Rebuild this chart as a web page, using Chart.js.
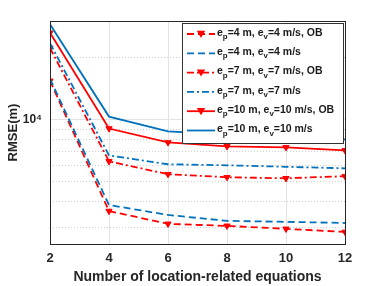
<!DOCTYPE html>
<html>
<head>
<meta charset="utf-8">
<script src="https://cdn.jsdelivr.net/npm/chart.js@4/dist/chart.umd.min.js"></script>
<style>
  html, body { margin: 0; padding: 0; background: #fff; }
  #wrap { width: 382px; height: 286px; }
</style>
</head>
<body>
<div id="wrap"><canvas id="rmseChart" width="382" height="286"></canvas></div>
<script>
// x values: number of location-related equations
const equations = [2, 4, 6, 8, 10, 12];

// RMSE (m), one array per curve
const rmseOb4 = [15400, 3610, 3130, 3060, 2960, 2860];
const rmse4 = [15740, 3860, 3455, 3235, 3200, 3160];
const rmseOb7 = [22200, 6280, 5440, 5260, 5200, 5320];
const rmse7 = [23450, 6710, 6080, 6010, 5910, 5810];
const rmseOb10 = [26300, 9050, 7750, 7420, 7340, 7100];
const rmse10 = [28900, 10340, 8760, 8470, 8290, 8010];

// legend labels ("_x" = subscript x)
const seriesLabels = [
    'e_p=4 m, e_v=4 m/s, OB',
    'e_p=4 m, e_v=4 m/s',
    'e_p=7 m, e_v=7 m/s, OB',
    'e_p=7 m, e_v=7 m/s',
    'e_p=10 m, e_v=10 m/s, OB',
    'e_p=10 m, e_v=10 m/s'
];

// axis ticks / grid
const xTicks = [2, 4, 6, 8, 10, 12];
const yGridValues = [3000, 4000, 5000, 6000, 7000, 8000, 9000, 10000, 20000];
const yMin = 2500;
const yMax = 30000;

const RED = '#ff0000';
const BLUE = '#0072bd';
const FONT = '"Liberation Sans", Arial, sans-serif';

function toPoints(values) {
    return equations.map((x, i) => ({ x: x, y: values[i] }));
}

function makeSeries(i, values, color, dash, marker) {
    return {
        label: seriesLabels[i],
        data: toPoints(values),
        borderColor: color,
        backgroundColor: color,
        borderWidth: 1.8,
        borderDash: dash,
        pointStyle: 'triangle',
        rotation: 180,
        pointRadius: marker ? 3.6 : 0,
        pointBorderWidth: 1,
        pointBackgroundColor: color,
        pointBorderColor: color,
        tension: 0,
        fill: false,
        order: 6 - i   // later curves on top, like matlab
    };
}

const DASH = [7, 4];
const DASHDOT = [7, 3, 2, 3];

const datasets = [
    makeSeries(0, rmseOb4, RED, DASH, true),
    makeSeries(1, rmse4, BLUE, DASH, false),
    makeSeries(2, rmseOb7, RED, DASHDOT, true),
    makeSeries(3, rmse7, BLUE, DASHDOT, false),
    makeSeries(4, rmseOb10, RED, [], true),
    makeSeries(5, rmse10, BLUE, [], false)
];

// draw text with _x subscripts
function drawSubText(ctx, text, x, y, size) {
    const mainFont = 'bold ' + size + 'px ' + FONT;
    const subFont = 'bold ' + (size * 0.75) + 'px ' + FONT;
    let cx = x;
    for (let i = 0; i < text.length; i++) {
        const ch = text[i];
        if (ch === '_' && i + 1 < text.length) {
            ctx.font = subFont;
            ctx.fillText(text[i + 1], cx, y + size * 0.38);
            cx += ctx.measureText(text[i + 1]).width;
            i++;
        } else {
            ctx.font = mainFont;
            ctx.fillText(ch, cx, y);
            cx += ctx.measureText(ch).width;
        }
    }
}

const boxLegend = {
    id: 'boxLegend',
    afterDatasetsDraw(chart) {
        const ctx = chart.ctx;
        const area = chart.chartArea;
        const w = 161, h = 120;
        const x0 = area.right - w - 2;
        const y0 = area.top + 2;
        ctx.save();
        ctx.fillStyle = '#fff';
        ctx.fillRect(x0, y0, w, h);
        ctx.strokeStyle = '#333';
        ctx.lineWidth = 1;
        ctx.strokeRect(x0 + 0.5, y0 + 0.5, w, h);
        const rowH = 19.3;
        chart.data.datasets.forEach((ds, i) => {
            const cy = y0 + 11 + i * rowH;
            ctx.strokeStyle = ds.borderColor;
            ctx.lineWidth = ds.borderWidth;
            ctx.setLineDash(ds.borderDash);
            ctx.beginPath();
            ctx.moveTo(x0 + 5, cy);
            ctx.lineTo(x0 + 33, cy);
            ctx.stroke();
            ctx.setLineDash([]);
            if (ds.pointRadius > 0) {
                const r = ds.pointRadius + 0.6;
                const mx = x0 + 19;
                ctx.fillStyle = ds.pointBackgroundColor;
                ctx.beginPath();
                ctx.moveTo(mx - r, cy - r * 0.75);
                ctx.lineTo(mx + r, cy - r * 0.75);
                ctx.lineTo(mx, cy + r * 0.95);
                ctx.closePath();
                ctx.fill();
            }
            ctx.fillStyle = '#1a1a1a';
            ctx.textBaseline = 'middle';
            drawSubText(ctx, ds.label, x0 + 35, cy - 1, 10.5);
        });
        ctx.restore();
    }
};

const axesBox = {
    id: 'axesBox',
    afterDraw(chart) {
        const ctx = chart.ctx;
        const a = chart.chartArea;
        ctx.save();
        ctx.strokeStyle = '#262626';
        ctx.lineWidth = 1;
        ctx.strokeRect(Math.round(a.left) + 0.5, Math.round(a.top) + 0.5,
            Math.round(a.right - a.left), Math.round(a.bottom - a.top));
        ctx.restore();
    }
};

const ctx = document.getElementById('rmseChart').getContext('2d');

const rmseChart = new Chart(ctx, {
    type: 'line',
    data: { datasets: datasets },
    options: {
        responsive: false,
        animation: false,
        events: [],
        layout: { padding: { top: 21, right: 37, left: 0, bottom: 0 } },
        plugins: {
            legend: { display: false },
            tooltip: { enabled: false }
        },
        scales: {
            x: {
                type: 'linear',
                min: 2,
                max: 12,
                afterBuildTicks: (axis) => { axis.ticks = xTicks.map(v => ({ value: v })); },
                afterFit: (axis) => { axis.height = 42; },
                ticks: {
                    autoSkip: false,
                    maxRotation: 0,
                    padding: 7,
                    color: '#262626',
                    font: { family: FONT, size: 13, weight: 'bold' }
                },
                grid: { color: '#e3e3e3', lineWidth: 1, drawTicks: false },
                border: { display: false },
                title: {
                    display: true,
                    text: 'Number of location-related equations',
                    color: '#262626',
                    font: { family: FONT, size: 14, weight: 'bold' },
                    padding: { top: 2, bottom: 0 }
                }
            },
            y: {
                type: 'logarithmic',
                min: yMin,
                max: yMax,
                afterBuildTicks: (axis) => { axis.ticks = yGridValues.map(v => ({ value: v })); },
                afterFit: (axis) => { axis.width = 50; },
                ticks: {
                    autoSkip: false,
                    padding: 8,
                    color: '#262626',
                    font: { family: FONT, size: 12, weight: 'bold' },
                    callback: (v) => (v === 10000 ? '10⁴' : '')
                },
                grid: {
                    color: (c) => (c.tick && c.tick.value === 10000 ? '#e3e3e3' : '#cfcfcf'),
                    lineWidth: 1,
                    drawTicks: false
                },
                border: {
                    display: false,
                    dash: (c) => (c.tick && c.tick.value === 10000 ? [] : [1, 2])
                },
                title: {
                    display: true,
                    text: 'RMSE(m)',
                    color: '#262626',
                    font: { family: FONT, size: 13, weight: 'bold' },
                    padding: { top: 6, bottom: 0 }
                }
            }
        }
    },
    plugins: [boxLegend, axesBox]
});
</script>
</body>
</html>
